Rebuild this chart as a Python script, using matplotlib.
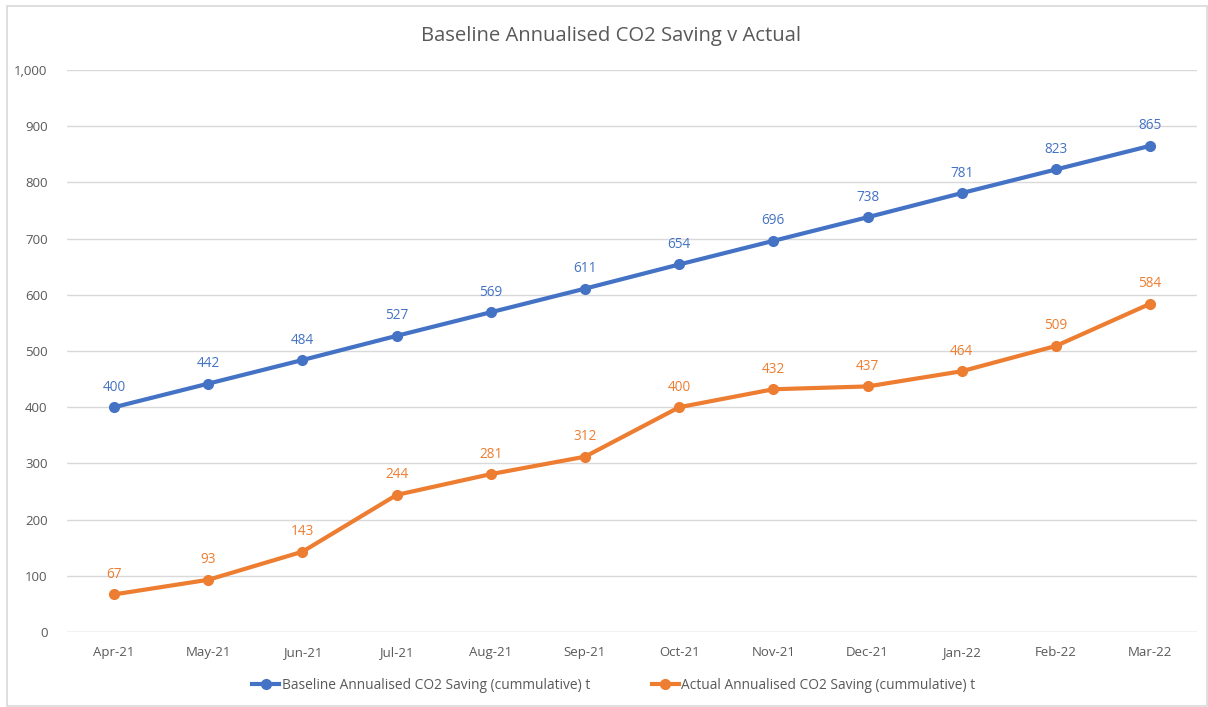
import matplotlib.pyplot as plt
from matplotlib.patches import Rectangle
from matplotlib.ticker import FuncFormatter

months = ["Apr-21", "May-21", "Jun-21", "Jul-21", "Aug-21", "Sep-21",
          "Oct-21", "Nov-21", "Dec-21", "Jan-22", "Feb-22", "Mar-22"]
baseline = [400, 442, 484, 527, 569, 611, 654, 696, 738, 781, 823, 865]
actual = [67, 93, 143, 244, 281, 312, 400, 432, 437, 464, 509, 584]

blue = "#4472C4"
orange = "#ED7D31"
grey = "#595959"

plt.rcParams['font.family'] = ['Open Sans', 'DejaVu Sans']

fig = plt.figure(figsize=(12.08, 7.07), dpi=100)
ax = fig.add_axes([0.0555, 0.106, 0.9355, 0.795])

x = list(range(len(months)))
ax.plot(x, baseline, color=blue, lw=3, marker='o', ms=7,
        label="Baseline Annualised CO2 Saving (cummulative) t")
ax.plot(x, actual, color=orange, lw=3, marker='o', ms=7,
        label="Actual Annualised CO2 Saving (cummulative) t")

for xi, v in zip(x, baseline):
    ax.annotate(str(v), (xi, v), xytext=(0, 9), textcoords='offset points',
                ha='center', va='bottom', color=blue, fontsize=9.8)
for xi, v in zip(x, actual):
    ax.annotate(str(v), (xi, v), xytext=(0, 9), textcoords='offset points',
                ha='center', va='bottom', color=orange, fontsize=9.8)

ax.set_xlim(-0.5, 11.5)
ax.set_ylim(0, 1000)
ax.set_yticks(range(0, 1001, 100))
ax.yaxis.set_major_formatter(FuncFormatter(lambda v, p: f"{int(v):,}"))
ax.set_xticks(x)
ax.set_xticklabels(months)
ax.tick_params(colors=grey, labelsize=9.5, length=0)
ax.tick_params(axis='y', pad=14)
ax.tick_params(axis='x', pad=10)
ax.grid(axis='y', color="#D9D9D9", lw=1)
ax.set_axisbelow(True)
for s in ax.spines.values():
    s.set_visible(False)
ax.axhline(0, color="#D9D9D9", lw=1)

fig.text(0.506, 0.949, "Baseline Annualised CO2 Saving v Actual", ha='center',
         va='center', fontsize=14.6, color=grey)

fig.legend(loc='center', bbox_to_anchor=(0.508, 0.03), ncol=2, frameon=False,
           fontsize=9.9, labelcolor=grey, handlelength=2.0, handletextpad=0.15,
           columnspacing=4.5)

fig.patches.append(Rectangle((0.006, 0.001), 0.993, 0.991, transform=fig.transFigure,
                             fill=False, edgecolor="#D9D9D9", lw=1.2))

fig.savefig("out.png", dpi=100)
